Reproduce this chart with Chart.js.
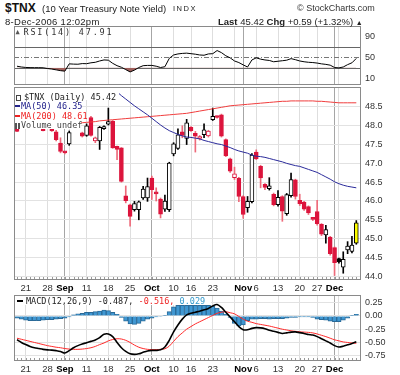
<!DOCTYPE html>
<html><head><meta charset="utf-8">
<script src="https://cdn.jsdelivr.net/npm/chart.js@4.4.0/dist/chart.umd.min.js"></script>
<style>
html,body{margin:0;padding:0;background:#fff;width:400px;height:375px;overflow:hidden;position:relative;}
canvas{position:absolute;left:0;}
.t{position:absolute;white-space:nowrap;line-height:1;font-family:"Liberation Sans",Arial,sans-serif;color:#222;}
.m{position:absolute;white-space:nowrap;line-height:1;font-family:"DejaVu Sans Mono",monospace;font-size:8.5px;color:#333;}
.bg{position:absolute;background:#fff;}
</style></head><body>
<canvas id="rsi" width="400" height="68" style="top:22px"></canvas>
<canvas id="main" width="400" height="215" style="top:80px"></canvas>
<canvas id="macd" width="400" height="85" style="top:290px"></canvas>

<div class="t" style="left:5px;top:1.5px;font-size:12px;font-weight:bold;color:#111">$TNX</div>
<div class="t" style="left:42px;top:3.7px;font-size:9.5px;">(10 Year Treasury Note Yield)</div>
<div class="t" style="left:173px;top:5.3px;font-size:7.5px;letter-spacing:1.5px;">INDX</div>
<div class="t" style="left:297px;top:4.1px;font-size:9px;color:#333">© StockCharts.com</div>
<div class="t" style="left:5px;top:17px;font-size:9.5px;letter-spacing:0.3px;">8-Dec-2006 12:02pm</div>
<div class="t" style="left:218px;top:17px;font-size:9.5px;"><b>Last</b> 45.42 <b>Chg</b> +0.59 (+1.32%) <span style="font-size:7px">▲</span></div>

<div class="m" style="left:15.5px;top:28.5px;font-size:7px;color:#555">▲</div>
<div class="m" style="left:23.5px;top:27.8px;letter-spacing:1.8px;">RSI(14) 47.91</div>

<div class="bg" style="left:15px;top:88px;width:104px;height:12px"></div>
<div class="bg" style="left:15px;top:88px;width:66px;height:41px"></div>
<div class="m" style="left:16px;top:92.8px;color:#222"><span style="display:inline-block;width:5px;height:6px;border:1px solid #444;box-sizing:border-box;margin-right:3px;vertical-align:-1px"></span>$TNX (Daily) 45.42</div>
<div class="m" style="left:15px;top:102.1px;color:#22228b"><span style="display:inline-block;width:5px;height:2px;background:#22228b;vertical-align:2px;margin-right:1px"></span>MA(50) 46.35</div>
<div class="m" style="left:15px;top:111.8px;color:#ee2222"><span style="display:inline-block;width:5px;height:2px;background:#ee2222;vertical-align:2px;margin-right:1px"></span>MA(200) 48.61</div>
<div class="m" style="left:15px;top:120.5px;color:#444"><span style="display:inline-block;width:5px;height:6px;border-left:2px solid #555;border-right:2px solid #555;box-sizing:border-box;vertical-align:-1px;margin-right:1px"></span>Volume undef</div>

<div class="bg" style="left:15px;top:296px;width:196px;height:9px"></div>
<div class="m" style="left:17px;top:296.8px;color:#222"><span style="display:inline-block;width:6px;height:2px;background:#000;vertical-align:2px;margin-right:3px"></span>MACD(12,26,9) -0.487,<span style="color:#ee2222"> -0.516,</span><span style="color:#3399cc"> 0.029</span></div>

<script>
// ---------- DATA ----------
const opens = [48.40,47.95,48.22,48.05,48.18,48.10,48.28,47.95,48.10,47.84,
47.54,47.29,47.52,47.98,47.95,47.81,47.74,48.22,47.60,47.60,
47.92,48.04,48.12,47.45,47.41,46.14,45.90,45.77,45.77,46.08,
46.08,46.61,46.22,46.05,45.78,45.77,47.25,47.40,47.84,47.66,
47.96,47.80,47.66,47.76,47.73,48.16,48.24,48.29,47.63,47.12,
46.62,46.60,46.12,45.82,45.98,47.30,46.92,46.44,46.33,46.18,
45.90,46.12,45.66,46.14,46.56,46.02,45.97,45.85,45.53,45.72,
45.38,45.10,45.04,44.76,44.47,44.24,44.70,44.66,44.88];
const highs = [48.55,48.30,48.35,48.28,48.30,48.38,48.32,48.22,48.14,47.88,
47.68,47.31,47.86,48.05,48.08,47.83,48.05,48.25,47.70,47.98,
48.00,48.47,48.14,47.46,47.42,46.40,45.92,45.99,46.00,46.39,
46.61,46.66,46.35,46.08,46.16,47.03,47.55,47.92,48.00,48.17,
47.98,47.85,47.74,48.05,47.88,48.47,48.26,48.31,47.65,47.14,
46.90,46.63,46.14,46.12,47.26,47.36,46.95,46.46,46.62,46.21,
46.28,46.14,46.20,46.74,46.58,46.18,45.99,45.87,45.55,46.02,
45.40,45.35,45.06,44.78,44.48,44.65,44.92,45.06,45.48];
const lows = [47.84,47.93,48.00,48.00,48.02,48.05,47.86,47.94,47.85,47.60,
47.28,47.25,47.48,47.93,47.93,47.70,47.72,47.72,47.55,47.37,
47.90,48.02,47.40,47.10,46.50,45.95,45.33,45.73,45.50,46.04,
45.99,46.04,46.00,45.55,45.72,45.72,47.20,47.37,47.68,47.50,
47.85,47.30,47.62,47.68,47.70,48.14,48.20,47.70,47.18,46.76,
46.57,45.98,45.54,45.70,45.95,47.10,46.35,46.30,46.29,45.87,
45.86,45.46,45.62,46.10,46.05,45.88,45.75,45.64,45.48,45.36,
45.08,44.88,44.56,44.02,44.35,44.08,44.60,44.62,44.85];
const closes = [47.85,48.20,48.05,48.18,48.10,48.30,47.87,48.12,47.86,47.63,
47.32,47.28,47.82,47.95,48.02,47.72,48.00,47.74,47.68,47.96,
47.98,48.11,47.41,47.37,46.52,46.01,45.59,45.93,45.98,46.32,
46.38,46.30,46.19,45.65,46.00,47.01,47.52,47.76,47.74,48.08,
47.87,47.72,47.70,47.89,47.86,48.25,48.22,47.72,47.20,46.79,
46.72,46.12,45.64,45.99,47.22,47.12,46.61,46.36,46.40,45.90,
46.10,45.73,46.17,46.57,46.12,45.93,45.78,45.68,45.51,45.40,
45.12,45.24,44.60,44.36,44.38,44.45,44.80,44.83,45.42];
const ma50 = [null,null,null,null,null,null,null,null,null,null,
null,null,null,null,null,null,null,null,49.40,49.31,
49.22,49.12,49.01,48.90,48.80,48.71,48.62,48.53,48.45,48.37,
48.29,48.20,48.11,48.02,47.94,47.87,47.82,47.77,47.73,47.70,
47.69,47.67,47.65,47.61,47.58,47.55,47.52,47.50,47.46,47.42,
47.37,47.33,47.30,47.27,47.22,47.19,47.18,47.16,47.13,47.10,
47.07,47.04,47.00,46.97,46.94,46.92,46.88,46.84,46.80,46.76,
46.70,46.64,46.58,46.51,46.46,46.42,46.39,46.37,46.35];
const ma200 = [47.98,47.99,48.00,48.01,48.02,48.03,48.03,48.04,48.05,48.05,
48.06,48.06,48.06,48.07,48.07,48.08,48.09,48.10,48.11,48.13,
48.14,48.15,48.16,48.17,48.18,48.19,48.20,48.21,48.22,48.23,
48.24,48.25,48.26,48.27,48.28,48.29,48.30,48.31,48.32,48.33,
48.35,48.37,48.39,48.41,48.43,48.45,48.47,48.49,48.51,48.53,
48.54,48.55,48.56,48.57,48.58,48.59,48.60,48.61,48.62,48.63,
48.64,48.65,48.65,48.66,48.66,48.66,48.66,48.66,48.66,48.65,
48.65,48.64,48.63,48.62,48.61,48.61,48.61,48.61,48.61];
const rsi = [33.0,31.5,30.6,30.3,30.2,30.2,30.0,28.6,27.5,26.0,
24.5,23.5,37.5,37.0,36.8,38.0,37.8,39.5,40.5,43.0,
45.0,44.5,38.5,34.0,31.0,26.5,22.0,25.5,30.5,34.0,
34.5,34.5,33.0,30.5,32.0,48.0,54.5,56.5,57.5,58.0,
57.0,56.0,54.5,54.0,56.5,57.0,63.0,59.0,53.0,49.0,
43.0,40.0,35.5,31.5,45.0,49.0,46.5,45.0,44.0,41.5,
42.5,43.5,44.5,47.5,45.5,43.0,41.5,40.5,40.0,39.0,
37.5,36.5,35.0,30.5,29.8,31.5,36.0,39.5,47.91];
const macd = [-0.45,-0.50,-0.54,-0.575,-0.60,-0.615,-0.63,-0.64,-0.645,-0.655,
-0.67,-0.70,-0.655,-0.60,-0.56,-0.53,-0.505,-0.48,-0.455,-0.41,
-0.345,-0.34,-0.39,-0.50,-0.60,-0.67,-0.715,-0.725,-0.715,-0.685,
-0.66,-0.65,-0.65,-0.64,-0.585,-0.46,-0.30,-0.17,-0.06,0.02,
0.05,0.07,0.09,0.115,0.14,0.19,0.215,0.16,0.07,-0.02,
-0.11,-0.20,-0.26,-0.26,-0.235,-0.22,-0.225,-0.24,-0.27,-0.29,
-0.31,-0.33,-0.32,-0.305,-0.30,-0.315,-0.33,-0.35,-0.36,-0.39,
-0.43,-0.47,-0.51,-0.56,-0.585,-0.57,-0.545,-0.52,-0.487];
const signal = [-0.42,-0.44,-0.46,-0.48,-0.50,-0.52,-0.54,-0.56,-0.575,-0.59,
-0.60,-0.615,-0.625,-0.63,-0.63,-0.625,-0.615,-0.60,-0.575,-0.54,
-0.51,-0.47,-0.445,-0.43,-0.435,-0.46,-0.50,-0.55,-0.59,-0.615,
-0.63,-0.635,-0.635,-0.63,-0.62,-0.57,-0.48,-0.39,-0.32,-0.25,
-0.20,-0.15,-0.11,-0.07,-0.03,0.01,0.05,0.07,0.08,0.06,
0.04,-0.01,-0.06,-0.10,-0.12,-0.145,-0.16,-0.175,-0.19,-0.21,
-0.23,-0.25,-0.265,-0.28,-0.29,-0.30,-0.305,-0.31,-0.32,-0.34,
-0.365,-0.39,-0.42,-0.45,-0.47,-0.49,-0.50,-0.51,-0.516];
const hist = [-0.04,-0.06,-0.08,-0.09,-0.09,-0.09,-0.08,-0.07,-0.07,-0.06,
-0.05,-0.04,-0.02,0.02,0.04,0.05,0.07,0.07,0.08,0.09,
0.11,0.10,0.07,0.03,-0.03,-0.10,-0.15,-0.16,-0.14,-0.10,
-0.06,-0.04,-0.02,-0.01,0.01,0.08,0.17,0.20,0.20,0.20,
0.20,0.20,0.20,0.20,0.20,0.18,0.15,0.09,0.03,-0.03,
-0.14,-0.19,-0.17,-0.09,-0.06,-0.06,-0.05,-0.05,-0.06,-0.05,
-0.05,-0.05,-0.04,-0.03,-0.03,-0.02,-0.02,-0.02,-0.03,-0.06,
-0.07,-0.08,-0.10,-0.11,-0.11,-0.08,-0.04,0.01,0.029];

// x grid (trading-day index) and labels
const gridIdx    = [2,7,11,12,16,21,26,31,36,40,45,50,52,55,60,65,69,73,74];
const gridLabels = ["21","28","Sep","","11","18","25","Oct","10","16","23","","Nov","6","13","20","27","Dec",""];
const monthIdx   = [11,31,52,73];
const priceTicks = [44.0,44.5,45.0,45.5,46.0,46.5,47.0,47.5,48.0,48.5];
const rsiTicks   = [10,30,50,70,90];
const rsiLevels  = [70,50,30];
const macdTicks  = [-0.75,-0.5,-0.25,0,0.25];

// ---------- HELPERS ----------
const X_MIN = -0.69, X_MAX = 79.08;
Chart.defaults.font.family = "'Liberation Sans', Arial, sans-serif";

const frame = { id:'frame', afterDatasetsDraw(chart, args, opts){
  const {ctx, chartArea:a, scales:{x}} = chart;
  ctx.save(); ctx.strokeStyle='#8a8a8a'; ctx.lineWidth=1;
  ctx.strokeRect(Math.round(a.left)+0.5, Math.round(a.top)+0.5, Math.round(a.right-a.left)-1, Math.round(a.bottom-a.top)-1);
  if (opts && opts.dayTicks) {
    ctx.strokeStyle='#999';
    ctx.beginPath();
    closes.forEach((_,i)=>{ const px = Math.round(x.getPixelForValue(i))+0.5;
      ctx.moveTo(px, Math.round(a.bottom)-1); ctx.lineTo(px, Math.round(a.bottom)-3); });
    ctx.stroke();
  }
  ctx.restore();
}};
const refLines = { id:'refLines', beforeDatasetsDraw(chart, args, opts){
  if(!opts || !opts.lines) return;
  const {ctx, chartArea:a, scales:{y}} = chart;
  opts.lines.forEach(l=>{
    const py = Math.round(y.getPixelForValue(l.value))+0.5;
    ctx.save(); ctx.strokeStyle=l.color; ctx.lineWidth=1; ctx.setLineDash(l.dash||[]);
    ctx.beginPath(); ctx.moveTo(a.left,py); ctx.lineTo(a.right,py); ctx.stroke(); ctx.restore();
  });
}};
Chart.register(frame, refLines);

function xScale(labelH){
  return {
    type:'linear', min:X_MIN, max:X_MAX, offset:false,
    afterBuildTicks: s => { s.ticks = gridIdx.map(v=>({value:v})); },
    afterFit: s => { s.height = labelH; s.paddingLeft = 0; s.paddingRight = 0; },
    grid:{ offset:false, drawTicks:false, lineWidth:1,
      color: c => (c.tick && monthIdx.includes(c.tick.value)) ? '#a6a6a6' : '#dedede' },
    border:{ display:false },
    ticks:{ display: labelH>0, autoSkip:false, maxRotation:0, minRotation:0, padding:3,
      callback:(v,i)=>gridLabels[i],
      color: c => (c.tick && monthIdx.includes(c.tick.value)) ? '#000' : '#333',
      font: c => ({ size:9.5, weight: (c.tick && monthIdx.includes(c.tick.value)) ? 'bold' : 'normal' }) }
  };
}
function yScale(min,max,ticks,fmt,gridColor){
  return {
    position:'right', min, max,
    afterBuildTicks: s => { s.ticks = ticks.map(v=>({value:v})); },
    afterFit: s => { s.width = 39; s.paddingTop = 0; s.paddingBottom = 0; },
    grid:{ color:gridColor, drawTicks:false },
    border:{ display:false },
    ticks:{ padding:4, color:'#333', font:{size:9}, callback: v => fmt(v) }
  };
}
function baseOpts(pad, labelH, y, extraPlugins){
  return {
    responsive:false, animation:false, devicePixelRatio:1, events:[],
    layout:{ padding:{ left:14, right:0, top:pad[0], bottom:pad[1] } },
    plugins:Object.assign({ legend:{display:false}, tooltip:{enabled:false} }, extraPlugins||{}),
    scales:{ x:xScale(labelH), y }
  };
}

const idx = closes.map((_,i)=>i);
const isHollow = i => closes[i] >= opens[i];
const isRed = i => closes[i] < (i>0 ? closes[i-1] : opens[i]);
const RED = '#dc143c', WICK_RED = '#ee6a7a';
const bodyBg = idx.map(i => i===idx.length-1 ? '#ffff00' : (isHollow(i) ? '#ffffff' : (isRed(i) ? RED : '#000000')));
const bodyBd = idx.map(i => i===idx.length-1 ? '#000000' : (isRed(i) ? RED : '#000000'));
const wickC  = idx.map(i => isRed(i) && i!==idx.length-1 ? WICK_RED : '#000000');

// ---------- RSI ----------
new Chart(document.getElementById('rsi'), {
  type:'line',
  data:{ datasets:[{
    data: idx.map(i=>({x:i, y:rsi[i]})),
    borderColor:'#000', borderWidth:1, pointRadius:0, tension:0,
    fill:{ target:{value:30}, above:'rgba(0,0,0,0)', below:'#a0605c' }
  }]},
  options: baseOpts([4,5], 0, yScale(-3,110,rsiTicks,v=>String(v),'rgba(0,0,0,0)'),
    { refLines:{ lines:[
      {value:rsiLevels[0], color:'#666'},
      {value:rsiLevels[1], color:'#777', dash:[5,2,1,2]},
      {value:rsiLevels[2], color:'#666'} ] } })
});

// ---------- MAIN ----------
new Chart(document.getElementById('main'), {
  type:'bar',
  data:{ datasets:[
    { type:'line', data: idx.map(i=>({x:i, y:ma50[i]})), borderColor:'#2a2a9a', borderWidth:1, pointRadius:0, fill:false, tension:0 },
    { type:'line', data: idx.map(i=>({x:i, y:ma200[i]})), borderColor:'#f03c3c', borderWidth:1, pointRadius:0, fill:false, tension:0 },
    { type:'bar', data: idx.map(i=>({x:i, y:[opens[i], closes[i]]})), backgroundColor:bodyBg, borderColor:bodyBd,
      borderWidth:1, borderSkipped:false, barThickness:4, grouped:false, minBarLength:2 },
    { type:'bar', data: idx.map(i=>({x:i, y:[lows[i], highs[i]]})), backgroundColor:wickC, borderWidth:0,
      barThickness:1, grouped:false }
  ]},
  options: baseOpts([7,0], 15, yScale(43.90,49.03,priceTicks,v=>v.toFixed(1),'#e2e2e2'), { frame:{dayTicks:true} })
});

// ---------- MACD ----------
new Chart(document.getElementById('macd'), {
  type:'bar',
  data:{ datasets:[
    { type:'line', data: idx.map(i=>({x:i, y:macd[i]})), borderColor:'#000', borderWidth:1.6, pointRadius:0, fill:false, tension:0.3 },
    { type:'line', data: idx.map(i=>({x:i, y:signal[i]})), borderColor:'#ff2a2a', borderWidth:1, pointRadius:0, fill:false, tension:0.3 },
    { type:'bar', data: idx.map(i=>({x:i, y:hist[i]})), backgroundColor:'#3f97d2', borderColor:'#2a6a98',
      borderWidth:1, grouped:false, barPercentage:1, categoryPercentage:1 }
  ]},
  options: baseOpts([5,0], 14, yScale(-0.85,0.395,macdTicks,v=>v.toFixed(2),'#e2e2e2'), { frame:{dayTicks:true} })
});
</script>
</body></html>
